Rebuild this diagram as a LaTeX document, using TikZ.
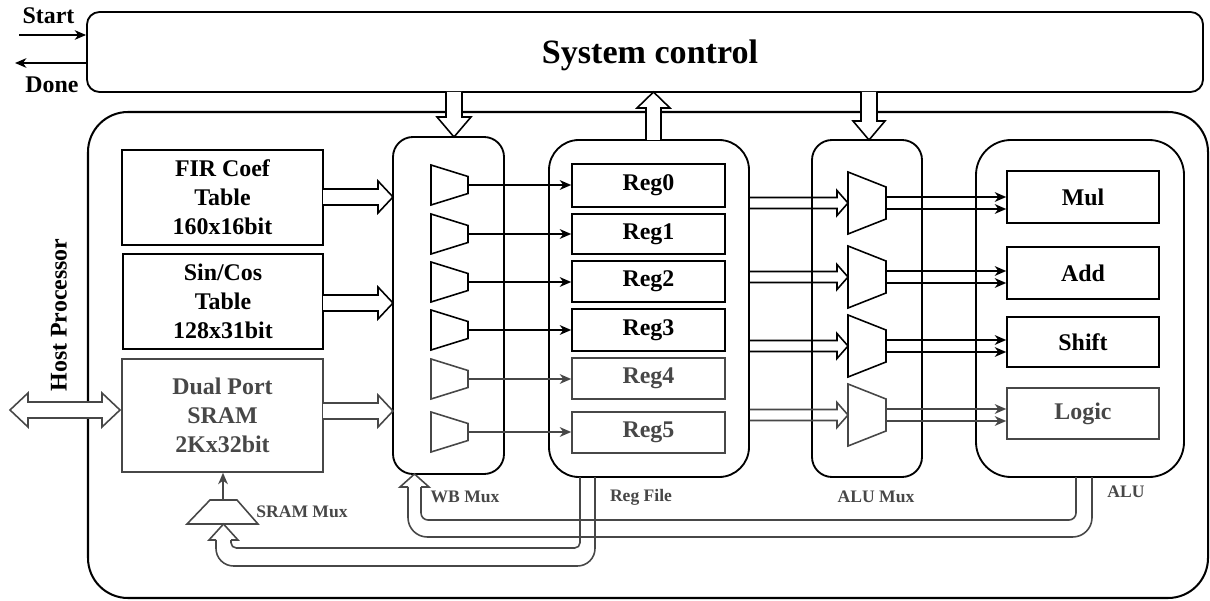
\documentclass[tikz,border=0pt]{standalone}
\usepackage{fontspec}
\setmainfont{Liberation Serif}
\usetikzlibrary{arrows.meta,fit,calc}
\colorlet{lo}{black!72}
\begin{document}
\begin{tikzpicture}[x=0.02cm,y=-0.02cm,
  rect/.style n args={4}{minimum width={(#3-#1)*0.02cm}, minimum height={(#4-#2)*0.02cm},
    at={({(#1+#3)/2},{(#2+#4)/2})}},
  box/.style={draw, line width=0.9pt, inner sep=0pt, align=center,
    font=\fontsize{13.6}{16.4}\selectfont\bfseries},
  rbox/.style={draw, line width=1.05pt, inner sep=0pt},
  lbl/.style={inner sep=0pt, font=\fontsize{10}{12}\selectfont\bfseries},
  big/.style={inner sep=0pt, font=\fontsize{13.6}{16.5}\selectfont\bfseries},
  tip/.style={-{Stealth[length=6.5pt,width=5.5pt,inset=2pt]}, line width=0.9pt},
  fat/.style={line width=0.9pt, fill=white},
  muxs/.style={line width=0.9pt, line join=miter},
  retl/.style={line width=0.9pt}]
\useasboundingbox (0,0) rectangle (1210,601);

% outer frame and system control
\node[rbox, line width=1.15pt, rounded corners=0.8cm, rect={88}{112}{1208}{598}] (outer) {};
\node[rbox, rounded corners=0.25cm, rect={87}{12}{1203}{92}] (sys) {};
\node[anchor=base, inner sep=0pt, font=\fontsize{19.4}{22}\selectfont\bfseries] (systxt) at (650,64) {System control};

% start / done
\node[big] (lstart) at (48.5,16) {Start};
\node[big] (ldone) at (52,85) {Done};
\coordinate (startin) at (19,35);
\coordinate (doneout) at (15,63);
\draw[tip] (startin) -- (startin -| sys.west);
\draw[tip] (doneout -| sys.west) -- (doneout);

% host processor
\node[big, rotate=90] (host) at (59,315) {Host Processor};

% memory tables
\node[box, rect={122}{150}{323}{245}] (fir) {FIR Coef\\Table\\160x16bit};
\node[box, rect={123}{254}{323}{349}] (sincos) {Sin/Cos\\Table\\128x31bit};
\node[box, draw=lo, text=lo, rect={122}{359}{323}{472}] (sram) {Dual Port\\SRAM\\2Kx32bit};

% host double arrow
\draw[fat, draw=lo] (10,410) -- (28,393) -- (28,402) -- (102,402) -- (102,393) -- (120,410)
  -- (102,427) -- (102,418) -- (28,418) -- (28,427) -- cycle;

% group boxes
\node[rbox, rounded corners=0.4cm, rect={393}{137}{504}{474}] (wbmux) {};
\node[rbox, rounded corners=0.6cm, rect={549}{140}{749}{477}] (regfile) {};
\node[rbox, rounded corners=0.4cm, rect={812}{140}{922}{477}] (alumux) {};
\node[rbox, rounded corners=0.7cm, rect={976}{140}{1184}{477}] (alu) {};

% table -> WB mux fat arrows
\foreach \c/\col in {197/black,303/black,411/lo}{
  \draw[fat,draw=\col] (323,{\c-8}) -- (378,{\c-8}) -- (378,{\c-16}) -- (393,\c)
    -- (378,{\c+16}) -- (378,{\c+8}) -- (323,{\c+8});
}

% control arrows
\draw[fat] (446,92) -- (446,117) -- (437,117) -- (454,137) -- (471,117) -- (462,117) -- (462,92);
\draw[fat] (646,140) -- (646,108) -- (637,108) -- (653.5,92) -- (670,108) -- (661,108) -- (661,140);
\draw[fat] (861,92) -- (861,121) -- (853,121) -- (869,140) -- (885,121) -- (877,121) -- (877,92);

% registers
\foreach \n/\t/\b/\col in {0/164/207/black,1/214/254/black,2/261/302/black,
  3/309/351/black,4/358/399/lo,5/412/453/lo}{
  \node[box, draw=\col, text=\col, rect={572}{\t}{725}{\b}] (reg\n) {Reg\n};
}

% WB muxes
\foreach \n/\c/\col in {0/185/black,1/234/black,2/282/black,3/330/black,4/379/lo,5/432/lo}{
  \draw[muxs,draw=\col] (431,{\c-20}) -- (468,{\c-8.5}) -- (468,{\c+8.5}) -- (431,{\c+20}) -- cycle;
  \coordinate (wm\n) at (468,\c);
  \draw[tip,\col] (wm\n) -- (reg\n.west |- wm\n);
}

% ALU units
\node[box, rect={1007}{171}{1159}{223}] (mul) {Mul};
\node[box, rect={1007}{247}{1159}{299}] (add) {Add};
\node[box, rect={1007}{317}{1159}{367}] (shift) {Shift};
\node[box, draw=lo, text=lo, rect={1007}{388}{1159}{439}] (logic) {Logic};

% ALU muxes
\foreach \n/\c/\u/\col in {1/203/mul/black,2/277/add/black,3/346/shift/black,4/415/logic/lo}{
  \draw[muxs,draw=\col] (848,{\c-31}) -- (886,{\c-16}) -- (886,{\c+16}) -- (848,{\c+31}) -- cycle;
  \coordinate (ami\n) at (848,\c);
  \coordinate (amo\n) at (886,\c);
  \coordinate (rfo\n) at (regfile.east |- ami\n);
  \draw[muxs,draw=\col] ($(rfo\n)+(0,-5.5)$) -- ($(ami\n)+(-11,-5.5)$) -- ($(ami\n)+(-11,-12.5)$)
    -- (ami\n) -- ($(ami\n)+(-11,12.5)$) -- ($(ami\n)+(-11,5.5)$) -- ($(rfo\n)+(0,5.5)$);
  \draw[tip,\col] ($(amo\n)+(0,-6)$) -- ($(\u.west |- amo\n)+(0,-6)$);
  \draw[tip,\col] ($(amo\n)+(0,6)$) -- ($(\u.west |- amo\n)+(0,6)$);
}

% SRAM mux
\draw[muxs,draw=lo] (210,500) -- (237,500) -- (258,524) -- (187,524) -- cycle;
\coordinate (smt) at (223,500);
\draw[tip,lo] (smt) -- (smt |- sram.south);

% return paths
\begin{scope}[lo, retl]
\draw[rounded corners=4pt] (1076,477) -- (1076,520) -- (421,520) -- (421,487);
\draw[rounded corners=11pt] (1092,477) -- (1092,537) -- (408,537) -- (408,487);
\draw (408,487) -- (400,487) -- (414.5,474) -- (429,487) -- (421,487);
\draw[rounded corners=3pt] (580,477) -- (580,548) -- (231,548) -- (231,540);
\draw[rounded corners=10pt] (595,477) -- (595,566) -- (216,566) -- (216,540);
\draw (216,540) -- (209,540) -- (223.5,524) -- (238,540) -- (231,540);
\end{scope}

% labels
\node[lbl, text=lo] (lsmux) at (302,512) {SRAM Mux};
\node[lbl, text=lo] (lwb) at (465,497) {WB Mux};
\node[lbl, text=lo] (lrf) at (641,497) {Reg File};
\node[lbl, text=lo] (lam) at (876,497) {ALU Mux};
\node[lbl, text=lo] (lalu) at (1126,492) {ALU};
\end{tikzpicture}
\end{document}
